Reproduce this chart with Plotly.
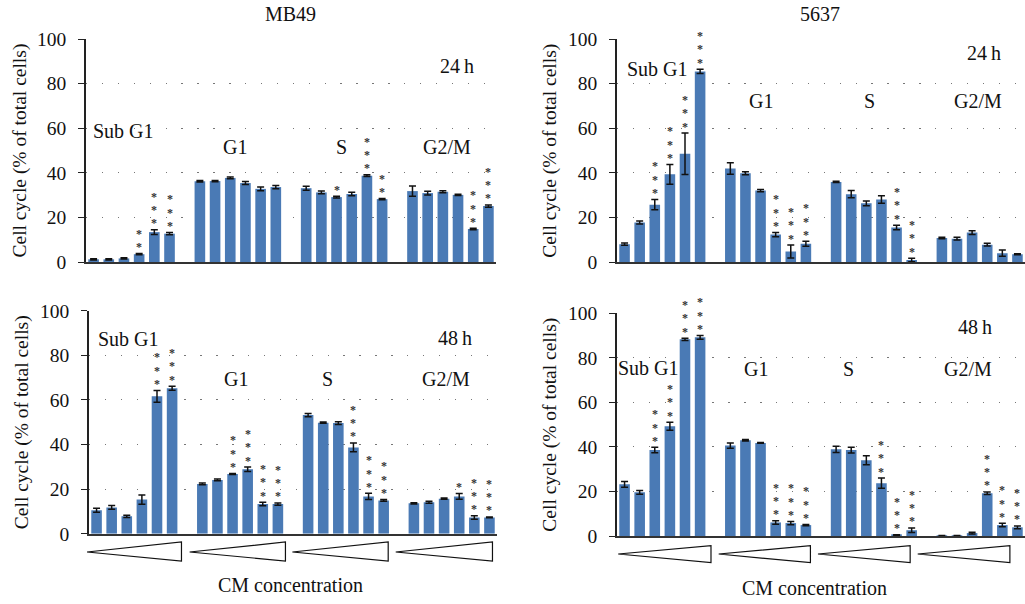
import plotly.graph_objects as go

# ---------------- data ----------------
phases = ["Sub G1", "G1", "S", "G2/M"]
n_conc = 6

mb49_24h_vals = [1.2, 1.2, 1.6, 3.5, 13.4, 12.7,
                 36.2, 36.3, 37.7, 35.4, 32.8, 33.6,
                 33.1, 31.2, 29.1, 30.5, 38.7, 28.2,
                 31.8, 30.9, 31.5, 30.1, 14.8, 25.1]
mb49_24h_err = [0.3, 0.3, 0.3, 0.3, 1.1, 0.5,
                0.3, 0.3, 0.4, 0.7, 0.8, 0.7,
                0.9, 0.6, 0.4, 0.8, 0.4, 0.3,
                2.3, 0.8, 0.4, 0.3, 0.3, 0.5]
mb49_24h_stars = [0, 0, 0, 2, 3, 3,
                  0, 0, 0, 0, 0, 0,
                  0, 0, 1, 0, 3, 2,
                  0, 0, 0, 0, 3, 3]

c5637_24h_vals = [8.1, 17.8, 25.8, 39.4, 48.6, 85.5,
                  42.0, 39.9, 32.1, 12.4, 4.8, 8.3,
                  36.0, 30.5, 26.4, 28.1, 15.6, 1.0,
                  10.9, 10.6, 13.3, 7.9, 4.1, 3.6]
c5637_24h_err = [0.5, 0.7, 2.3, 4.4, 9.3, 1.0,
                 2.6, 0.7, 0.5, 1.0, 2.9, 1.1,
                 0.3, 1.6, 1.1, 1.7, 1.0, 0.8,
                 0.3, 0.6, 0.8, 0.6, 1.4, 0.2]
c5637_24h_stars = [0, 0, 3, 3, 3, 3,
                   0, 0, 0, 3, 3, 3,
                   0, 0, 0, 0, 3, 3,
                   0, 0, 0, 0, 0, 0]

mb49_48h_vals = [10.5, 11.8, 7.8, 15.3, 61.6, 65.2,
                 22.3, 24.1, 26.8, 28.9, 13.3, 13.3,
                 53.2, 49.8, 49.6, 38.7, 16.7, 14.9,
                 13.6, 14.1, 15.7, 16.7, 7.3, 7.3]
mb49_48h_err = [0.9, 0.8, 0.5, 2.1, 2.6, 0.9,
                0.4, 0.4, 0.2, 1.0, 0.8, 0.5,
                0.7, 0.3, 0.6, 2.0, 1.4, 0.4,
                0.3, 0.5, 0.3, 1.3, 0.8, 0.2]
mb49_48h_stars = [0, 0, 0, 0, 3, 3,
                  0, 0, 3, 3, 3, 3,
                  0, 0, 0, 3, 3, 3,
                  0, 0, 0, 1, 3, 3]

c5637_48h_vals = [23.2, 19.6, 38.6, 49.3, 88.3, 89.2,
                  40.6, 43.0, 41.8, 6.1, 5.8, 4.9,
                  38.9, 38.6, 34.0, 23.7, 0.4, 2.6,
                  0.1, 0.1, 1.3, 19.2, 4.9, 3.9]
c5637_48h_err = [1.3, 0.8, 1.2, 1.8, 0.5, 0.8,
                 1.2, 0.3, 0.2, 0.8, 0.7, 0.3,
                 1.4, 1.3, 2.0, 2.3, 0.2, 1.0,
                 0.1, 0.1, 0.4, 0.6, 0.8, 0.6]
c5637_48h_stars = [0, 0, 3, 3, 3, 3,
                   0, 0, 0, 3, 3, 3,
                   0, 0, 0, 3, 3, 3,
                   0, 0, 0, 3, 3, 3]

cell_lines = ["MB49", "5637"]
time_labels = ["24\u2009h", "48\u2009h"]
y_title = "Cell cycle (% of total cells)"
x_title = "CM concentration"

# ---------------- layout geometry (pixels) ----------------
W, H = 1025, 604
FONT = "Liberation Serif"
BAR = "#4A7AB5"
INK = "#222222"
TXT = "#111111"

panels = [
    dict(vals=mb49_24h_vals, err=mb49_24h_err, stars=mb49_24h_stars, px=(86, 496), py=(262, 39),
         lab=[(1.96, 58.7), (9.3, 51.7), (16.3, 51.7), (23.3, 51.7)], time=(23.9, 88.0), ttl=0, tlab=0),
    dict(vals=c5637_24h_vals, err=c5637_24h_err, stars=c5637_24h_stars, px=(617, 1025), py=(262.3, 39),
         lab=[(2.2, 86.5), (9.0, 72.3), (16.2, 72.3), (23.4, 72.3)], time=(23.8, 93.7), ttl=1, tlab=0),
    dict(vals=mb49_48h_vals, err=mb49_48h_err, stars=mb49_48h_stars, px=(89, 497), py=(533.7, 310.7),
         lab=[(2.1, 87.3), (9.2, 69.2), (15.3, 69.2), (23.1, 69.2)], time=(23.7, 87.9), ttl=None, tlab=1,
         tri=[(-0.63, 5.62), (6.16, 12.5), (12.96, 19.3), (19.8, 26.2)], tri_y=(542, 552, 561), xt=(290, 585)),
    dict(vals=c5637_48h_vals, err=c5637_48h_err, stars=c5637_48h_stars, px=(617, 1025), py=(536, 313.3),
         lab=[(1.6, 75.6), (8.7, 75.0), (14.8, 75.0), (22.7, 75.0)], time=(23.2, 94.0), ttl=None, tlab=1,
         tri=[(-0.42, 5.72), (6.23, 12.3), (12.8, 18.9), (19.4, 25.5)], tri_y=(545.7, 554, 562.7), xt=(814, 588)),
]

XR = [-0.5, 26.5]
positions = [g * (n_conc + 1) + i for g in range(len(phases)) for i in range(n_conc)]

fig = go.Figure()
annotations = []
shapes = []


def px_x(v):
    return v / W


def px_y(v):
    return 1 - v / H


for k, p in enumerate(panels, start=1):
    xa, ya = f"x{k}", f"y{k}"
    fig.add_trace(go.Bar(
        x=positions, y=p["vals"], width=0.7, marker=dict(color=BAR, line=dict(width=0)),
        error_y=dict(type="data", array=p["err"], visible=True, color="#111111", thickness=1.5, width=3.5),
        xaxis=xa, yaxis=ya, showlegend=False, hoverinfo="y"))

    xdom = [px_x(p["px"][0]), px_x(p["px"][1])]
    ydom = [px_y(p["py"][0]), px_y(p["py"][1])]
    fig.update_layout(**{
        f"xaxis{k}": dict(domain=xdom, range=XR, anchor=ya, showline=True, linecolor="#333333", linewidth=2,
                          showticklabels=False, ticks="", showgrid=False, zeroline=False, fixedrange=True,
                          automargin=False),
        f"yaxis{k}": dict(domain=ydom, range=[0, 100], dtick=20, anchor=xa, showline=True, linecolor=INK,
                          linewidth=1.5, ticks="outside", ticklen=6, tickwidth=1.3, tickcolor=INK,
                          ticklabelstandoff=8, automargin=False,
                          tickfont=dict(family=FONT, size=19.5, color=TXT),
                          showgrid=True, gridcolor="#777777", gridwidth=1.4, griddash="1.4px,14.5px",
                          zeroline=False, fixedrange=True),
    })

    # significance stars
    for pos, v, e, n in zip(positions, p["vals"], p["err"], p["stars"]):
        for s in range(n):
            annotations.append(dict(x=pos, y=v + e, xref=xa, yref=ya, text="<b>*</b>", showarrow=False,
                                    xanchor="center", yanchor="middle", yshift=6.5 + 13.3 * s, borderpad=0,
                                    font=dict(family=FONT, size=12, color="#333333")))
    # phase labels
    for name, (lx, ly) in zip(phases, p["lab"]):
        annotations.append(dict(x=lx, y=ly, xref=xa, yref=ya, text=name, showarrow=False,
                                xanchor="center", yanchor="middle",
                                font=dict(family=FONT, size=20, color=TXT)))
    annotations.append(dict(x=p["time"][0], y=p["time"][1], xref=xa, yref=ya, text=time_labels[p["tlab"]],
                            showarrow=False, xanchor="center", yanchor="middle",
                            font=dict(family=FONT, size=20, color=TXT)))
    # y-axis title
    annotations.append(dict(x=px_x(p["px"][0] - 67), y=px_y((p["py"][0] + p["py"][1]) / 2),
                            xref="paper", yref="paper", text=y_title, textangle=-90, showarrow=False,
                            xanchor="center", yanchor="middle",
                            font=dict(family=FONT, size=19.5, color=TXT)))
    if p["ttl"] is not None:
        annotations.append(dict(x=px_x((p["px"][0] + p["px"][1]) / 2 - 1), y=px_y(14),
                                xref="paper", yref="paper", text=cell_lines[p["ttl"]], showarrow=False,
                                xanchor="center", yanchor="middle",
                                font=dict(family=FONT, size=20, color=TXT)))
    if "tri" in p:
        x0p, x1p = p["px"]
        slot = (x1p - x0p) / (XR[1] - XR[0])
        top, mid, bot = p["tri_y"]
        for a, b in p["tri"]:
            xa_px = x0p + (a - XR[0]) * slot
            xb_px = x0p + (b - XR[0]) * slot
            path = (f"M {px_x(xa_px):.5f},{px_y(mid):.5f} L {px_x(xb_px):.5f},{px_y(top):.5f} "
                    f"L {px_x(xb_px):.5f},{px_y(bot):.5f} Z")
            shapes.append(dict(type="path", xref="paper", yref="paper", path=path,
                               line=dict(color="#111111", width=1.2), fillcolor="rgba(0,0,0,0)"))
        annotations.append(dict(x=px_x(p["xt"][0]), y=px_y(p["xt"][1]), xref="paper", yref="paper",
                                text=x_title, showarrow=False, xanchor="center", yanchor="middle",
                                font=dict(family=FONT, size=20, color=TXT)))

fig.update_layout(
    width=W, height=H, margin=dict(l=0, r=0, t=0, b=0, pad=0, autoexpand=False),
    paper_bgcolor="white", plot_bgcolor="white",
    bargap=0.3, showlegend=False,
    annotations=annotations, shapes=shapes,
    font=dict(family=FONT, size=19, color=TXT),
)

fig.write_html(
    "out.html",
    config={"displayModeBar": False},
    post_script=("document.body.style.margin='0px';document.body.style.padding='0px';"
                 "document.body.style.overflow='hidden';document.documentElement.style.overflow='hidden';"),
)
